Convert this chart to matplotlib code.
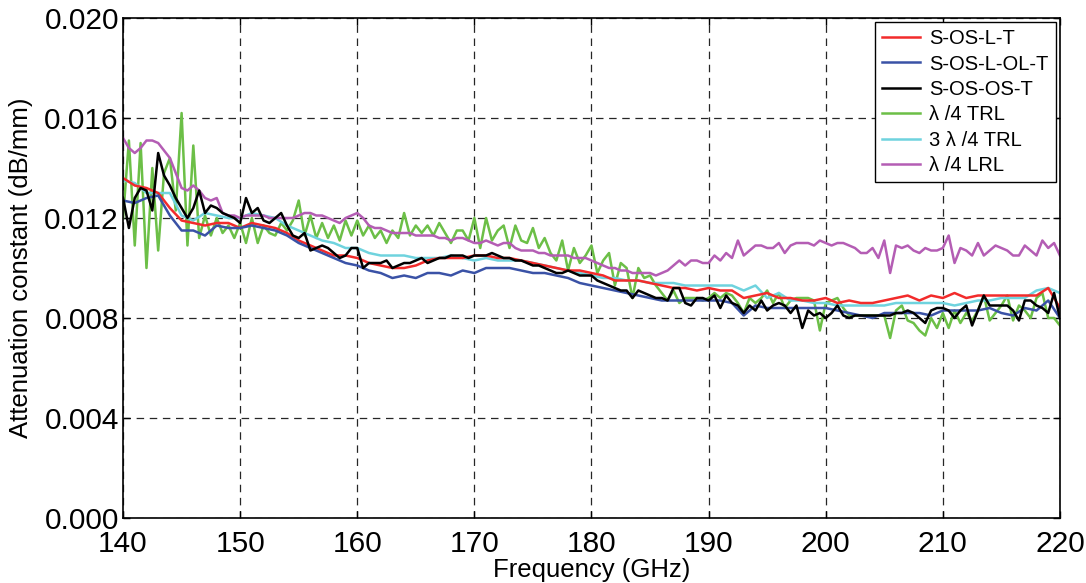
import numpy as np
import matplotlib
matplotlib.use("Agg")
import matplotlib.pyplot as plt

plt.rcParams['font.family'] = ['Liberation Sans', 'DejaVu Sans']

# ---- data ----
freq_start = 140.0
freq_end = 220.0

# 1 GHz resolution series
red_sosl = [0.0136, 0.0133, 0.0132, 0.0130, 0.0124, 0.0119, 0.0118, 0.0117, 0.0118, 0.0118,
            0.0116, 0.0118, 0.0117, 0.0116, 0.0114, 0.0111, 0.0109, 0.0107, 0.0105, 0.0105,
            0.0104, 0.0102, 0.0101, 0.0100, 0.0100, 0.0101, 0.0103, 0.0104, 0.0104, 0.0104,
            0.0105, 0.0105, 0.0104, 0.0104, 0.0103, 0.0102, 0.0101, 0.0100, 0.0099, 0.0099,
            0.0098, 0.0097, 0.0095, 0.0095, 0.0095, 0.0094, 0.0093, 0.0092, 0.0092, 0.0091,
            0.0092, 0.0091, 0.0091, 0.0088, 0.0089, 0.0090, 0.0088, 0.0088, 0.0087, 0.0087,
            0.0088, 0.0086, 0.0087, 0.0086, 0.0086, 0.0087, 0.0088, 0.0089, 0.0087, 0.0089,
            0.0088, 0.0090, 0.0088, 0.0089, 0.0089, 0.0089, 0.0089, 0.0089, 0.0089, 0.0092,
            0.0084]

blue_sosl_ol = [0.0127, 0.0126, 0.0128, 0.0129, 0.0121, 0.0115, 0.0115, 0.0113, 0.0117, 0.0116,
                0.0116, 0.0117, 0.0116, 0.0115, 0.0113, 0.0110, 0.0108, 0.0106, 0.0104, 0.0102,
                0.0101, 0.0099, 0.0098, 0.0096, 0.0097, 0.0096, 0.0098, 0.0098, 0.0097, 0.0099,
                0.0098, 0.0100, 0.0100, 0.0100, 0.0099, 0.0098, 0.0098, 0.0097, 0.0096, 0.0094,
                0.0093, 0.0092, 0.0091, 0.0090, 0.0089, 0.0088, 0.0087, 0.0087, 0.0087, 0.0087,
                0.0087, 0.0087, 0.0086, 0.0081, 0.0085, 0.0084, 0.0084, 0.0084, 0.0084, 0.0084,
                0.0084, 0.0083, 0.0082, 0.0081, 0.0080, 0.0082, 0.0082, 0.0082, 0.0082, 0.0081,
                0.0083, 0.0083, 0.0083, 0.0083, 0.0084, 0.0082, 0.0081, 0.0084, 0.0083, 0.0087,
                0.0080]

cyan_3q_trl = [0.0135, 0.0134, 0.0130, 0.0130, 0.0130, 0.0121, 0.0119, 0.0122, 0.0121, 0.0120,
               0.0120, 0.0122, 0.0121, 0.0120, 0.0117, 0.0115, 0.0113, 0.0111, 0.0110, 0.0108,
               0.0108, 0.0106, 0.0105, 0.0105, 0.0105, 0.0104, 0.0104, 0.0104, 0.0105, 0.0104,
               0.0103, 0.0104, 0.0103, 0.0103, 0.0103, 0.0102, 0.0101, 0.0100, 0.0099, 0.0098,
               0.0097, 0.0096, 0.0096, 0.0095, 0.0095, 0.0094, 0.0094, 0.0094, 0.0093, 0.0093,
               0.0093, 0.0093, 0.0093, 0.0091, 0.0093, 0.0088, 0.0090, 0.0087, 0.0087, 0.0086,
               0.0086, 0.0085, 0.0085, 0.0085, 0.0085, 0.0085, 0.0086, 0.0086, 0.0086, 0.0086,
               0.0086, 0.0085, 0.0086, 0.0087, 0.0087, 0.0088, 0.0088, 0.0088, 0.0091, 0.0092,
               0.0090]

# 0.5 GHz resolution series
black_sosos = [0.0128, 0.0116, 0.0128, 0.0132, 0.0131, 0.0123, 0.0146, 0.0137, 0.0133, 0.0128,
               0.0124, 0.0120, 0.0124, 0.0131, 0.0122, 0.0125, 0.0124, 0.0122, 0.0121, 0.0120,
               0.0118, 0.0128, 0.0122, 0.0124, 0.0119, 0.0118, 0.0120, 0.0122, 0.0117, 0.0113,
               0.0112, 0.0114, 0.0107, 0.0108, 0.0109, 0.0108, 0.0106, 0.0104, 0.0105, 0.0108,
               0.0108, 0.0100, 0.0102, 0.0102, 0.0102, 0.0103, 0.0100, 0.0101, 0.0102, 0.0102,
               0.0103, 0.0104, 0.0102, 0.0103, 0.0104, 0.0104, 0.0105, 0.0105, 0.0105, 0.0104,
               0.0105, 0.0105, 0.0105, 0.0106, 0.0105, 0.0104, 0.0104, 0.0103, 0.0103, 0.0102,
               0.0101, 0.0101, 0.0100, 0.0099, 0.0098, 0.0098, 0.0099, 0.0098, 0.0097, 0.0097,
               0.0097, 0.0095, 0.0094, 0.0093, 0.0092, 0.0091, 0.0091, 0.0088, 0.0091, 0.0090,
               0.0089, 0.0088, 0.0088, 0.0087, 0.0092, 0.0092, 0.0086, 0.0085, 0.0088, 0.0088,
               0.0087, 0.0089, 0.0084, 0.0089, 0.0086, 0.0085, 0.0082, 0.0085, 0.0083, 0.0087,
               0.0083, 0.0085, 0.0086, 0.0085, 0.0082, 0.0085, 0.0076, 0.0083, 0.0081, 0.0082,
               0.0080, 0.0082, 0.0085, 0.0081, 0.0080, 0.0081, 0.0081, 0.0081, 0.0081, 0.0081,
               0.0081, 0.0081, 0.0082, 0.0082, 0.0083, 0.0082, 0.0080, 0.0078, 0.0083, 0.0084,
               0.0084, 0.0083, 0.0080, 0.0083, 0.0085, 0.0077, 0.0083, 0.0089, 0.0085, 0.0085,
               0.0085, 0.0085, 0.0083, 0.0079, 0.0087, 0.0087, 0.0085, 0.0084, 0.0082, 0.0090,
               0.0080]

green_q_trl = [0.0120, 0.0151, 0.0109, 0.0150, 0.0100, 0.0140, 0.0107, 0.0138, 0.0144, 0.0123,
               0.0162, 0.0109, 0.0149, 0.0112, 0.0121, 0.0113, 0.0120, 0.0114, 0.0117, 0.0112,
               0.0118, 0.0110, 0.0120, 0.0110, 0.0117, 0.0114, 0.0113, 0.0118, 0.0115, 0.0119,
               0.0127, 0.0113, 0.0121, 0.0112, 0.0118, 0.0112, 0.0117, 0.0111, 0.0119, 0.0113,
               0.0119, 0.0113, 0.0117, 0.0112, 0.0115, 0.0110, 0.0115, 0.0112, 0.0122, 0.0113,
               0.0117, 0.0114, 0.0117, 0.0113, 0.0118, 0.0114, 0.0110, 0.0115, 0.0115, 0.0111,
               0.0120, 0.0108, 0.0120, 0.0111, 0.0115, 0.0117, 0.0108, 0.0117, 0.0111, 0.0110,
               0.0116, 0.0108, 0.0112, 0.0106, 0.0103, 0.0111, 0.0099, 0.0108, 0.0102, 0.0105,
               0.0109, 0.0098, 0.0103, 0.0106, 0.0093, 0.0102, 0.0100, 0.0088, 0.0100, 0.0096,
               0.0097, 0.0093, 0.0090, 0.0087, 0.0091, 0.0086, 0.0088, 0.0088, 0.0088, 0.0087,
               0.0088, 0.0090, 0.0088, 0.0090, 0.0089, 0.0086, 0.0082, 0.0088, 0.0086, 0.0088,
               0.0091, 0.0086, 0.0090, 0.0084, 0.0087, 0.0088, 0.0088, 0.0088, 0.0087, 0.0075,
               0.0086, 0.0087, 0.0088, 0.0084, 0.0081, 0.0081, 0.0081, 0.0081, 0.0081, 0.0081,
               0.0081, 0.0072, 0.0083, 0.0085, 0.0079, 0.0078, 0.0075, 0.0073, 0.0080, 0.0076,
               0.0082, 0.0076, 0.0083, 0.0078, 0.0082, 0.0079, 0.0083, 0.0089, 0.0079, 0.0082,
               0.0085, 0.0089, 0.0079, 0.0085, 0.0083, 0.0080, 0.0088, 0.0090, 0.0080, 0.0080,
               0.0077]

magenta_q_lrl = [0.0152, 0.0148, 0.0146, 0.0148, 0.0151, 0.0151, 0.0150, 0.0147, 0.0144, 0.0138,
                 0.0132, 0.0131, 0.0133, 0.0131, 0.0128, 0.0127, 0.0128, 0.0122, 0.0121, 0.0121,
                 0.0120, 0.0121, 0.0121, 0.0121, 0.0121, 0.0120, 0.0120, 0.0120, 0.0120, 0.0120,
                 0.0121, 0.0122, 0.0122, 0.0121, 0.0121, 0.0120, 0.0119, 0.0118, 0.0120, 0.0121,
                 0.0122, 0.0120, 0.0117, 0.0116, 0.0116, 0.0115, 0.0114, 0.0114, 0.0114, 0.0114,
                 0.0113, 0.0113, 0.0113, 0.0113, 0.0112, 0.0112, 0.0111, 0.0112, 0.0112, 0.0111,
                 0.0110, 0.0110, 0.0111, 0.0110, 0.0109, 0.0110, 0.0110, 0.0108, 0.0107, 0.0107,
                 0.0107, 0.0106, 0.0106, 0.0105, 0.0105, 0.0105, 0.0105, 0.0104, 0.0104, 0.0104,
                 0.0103, 0.0102, 0.0101, 0.0100, 0.0100, 0.0099, 0.0099, 0.0098, 0.0098, 0.0098,
                 0.0098, 0.0097, 0.0098, 0.0099, 0.0101, 0.0103, 0.0101, 0.0103, 0.0103, 0.0102,
                 0.0102, 0.0105, 0.0103, 0.0106, 0.0104, 0.0111, 0.0105, 0.0107, 0.0109, 0.0109,
                 0.0108, 0.0108, 0.0110, 0.0106, 0.0109, 0.0110, 0.0110, 0.0110, 0.0109, 0.0111,
                 0.0110, 0.0109, 0.0110, 0.0110, 0.0109, 0.0108, 0.0106, 0.0106, 0.0108, 0.0104,
                 0.0111, 0.0098, 0.0109, 0.0108, 0.0109, 0.0107, 0.0106, 0.0108, 0.0107, 0.0107,
                 0.0108, 0.0113, 0.0102, 0.0108, 0.0107, 0.0105, 0.0110, 0.0105, 0.0107, 0.0109,
                 0.0108, 0.0107, 0.0105, 0.0105, 0.0109, 0.0107, 0.0105, 0.0111, 0.0108, 0.0110,
                 0.0105]

labels = ["S-OS-L-T", "S-OS-L-OL-T", "S-OS-OS-T", "\u03bb /4 TRL", "3 \u03bb /4 TRL", "\u03bb /4 LRL"]
x_ticks = [140, 150, 160, 170, 180, 190, 200, 210, 220]
y_ticks = [0.000, 0.004, 0.008, 0.012, 0.016, 0.020]
x_label = "Frequency (GHz)"
y_label = "Attenuation constant (dB/mm)"

# ---- plot ----
def freq_axis(vals):
    return np.linspace(freq_start, freq_end, len(vals))

fig = plt.figure(figsize=(10.86, 5.83), dpi=100)
ax = fig.add_axes([0.1133, 0.1115, 0.8627, 0.8576])

series = [
    (red_sosl, '#f22b2b'),
    (blue_sosl_ol, '#3a52a6'),
    (black_sosos, '#000000'),
    (green_q_trl, '#6cbf47'),
    (cyan_3q_trl, '#6fd3de'),
    (magenta_q_lrl, '#b45db4'),
]
draw_order = [3, 4, 5, 0, 1, 2]
handles = [None] * 6
for i in draw_order:
    vals, col = series[i]
    h, = ax.plot(freq_axis(vals), vals, color=col, lw=1.8, label=labels[i])
    handles[i] = h

ax.set_xlim(freq_start, freq_end)
ax.set_ylim(0, 0.020)
ax.set_xticks(x_ticks)
ax.set_yticks(y_ticks)
ax.set_yticklabels([f"{v:.3f}" for v in y_ticks])
ax.tick_params(direction='in', length=5, width=1, top=True, right=True,
               labelsize=21.5, pad=3)
ax.tick_params(axis='x', pad=9)
for sp in ax.spines.values():
    sp.set_linewidth(1.2)
ax.grid(True, color='0.15', linestyle=(0, (6, 4.5)), linewidth=0.9)
ax.set_xlabel(x_label, fontsize=18.5, labelpad=0)
ax.set_ylabel(y_label, fontsize=18.5, labelpad=8)

leg = ax.legend(handles=handles, labels=labels, loc='upper right', fontsize=14.5,
                frameon=True, fancybox=False, framealpha=1, edgecolor='black',
                handlelength=1.9, handletextpad=0.45, labelspacing=0.32,
                borderpad=0.35, borderaxespad=0.2)
leg.get_frame().set_linewidth(1.0)

fig.savefig("out.png", dpi=100)
